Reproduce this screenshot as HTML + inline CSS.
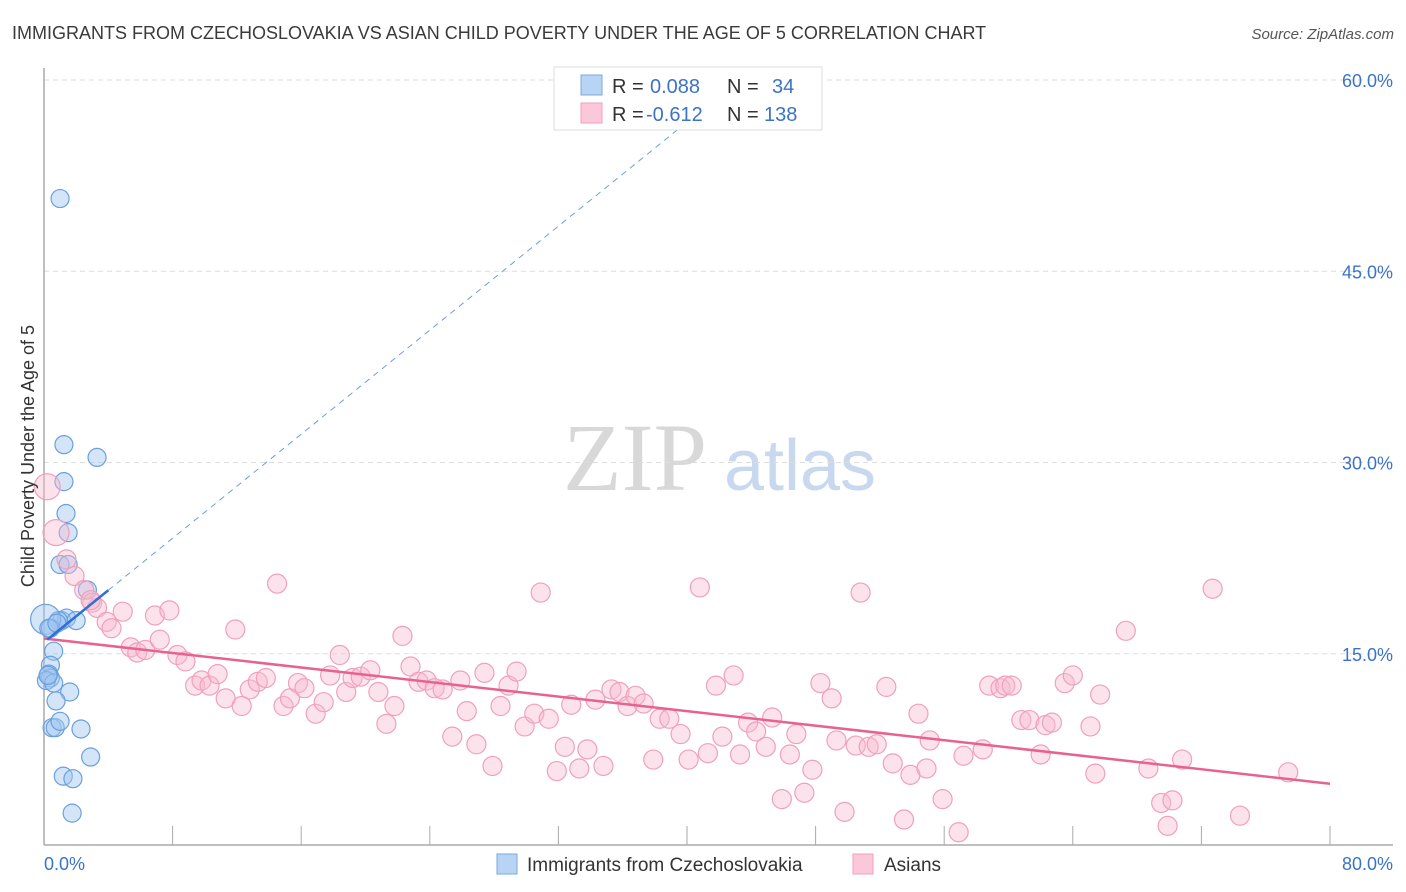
<!DOCTYPE html>
<html><head><meta charset="utf-8"><style>
body{margin:0;background:#fff;font-family:"Liberation Sans",sans-serif;}
svg{display:block}
</style></head><body>
<svg id="chart" width="1406" height="892" xmlns="http://www.w3.org/2000/svg" font-family="Liberation Sans, sans-serif">
<text x="12" y="39" font-size="18" fill="#3a3a3a">IMMIGRANTS FROM CZECHOSLOVAKIA VS ASIAN CHILD POVERTY UNDER THE AGE OF 5 CORRELATION CHART</text>
<text x="1394" y="39" font-size="15" fill="#555" text-anchor="end" font-style="italic">Source: ZipAtlas.com</text>
<g>
<text x="635" y="490" font-size="96" fill="#d8d8d8" font-family="Liberation Serif, serif" text-anchor="middle">ZIP</text>
<text x="800" y="490" font-size="72" fill="#c8d9ef" text-anchor="middle">atlas</text>
</g>
<g id="grid"></g>
<g id="axes"></g>
<g id="blueDots"></g>
<g id="pinkDots"></g>
<g id="lines"></g>
<text transform="translate(34,456) rotate(-90)" font-size="18" fill="#333" text-anchor="middle">Child Poverty Under the Age of 5</text>
<g>
<rect x="554" y="67" width="268" height="63" fill="#fff" stroke="#ddd"/>
<rect x="581" y="75" width="21" height="20" fill="#b8d4f5" stroke="#7aa8e0"/>
<rect x="581" y="103" width="21" height="20" fill="#fac8d8" stroke="#f0a0b8"/>
<text x="612" y="93" font-size="20" fill="#333">R =</text>
<text x="650" y="93" font-size="20" fill="#3b73c8">0.088</text>
<text x="727" y="93" font-size="20" fill="#333">N =</text>
<text x="772" y="93" font-size="20" fill="#3b73c8">34</text>
<text x="612" y="121" font-size="20" fill="#333">R =</text>
<text x="646" y="121" font-size="20" fill="#3b73c8">-0.612</text>
<text x="727" y="121" font-size="20" fill="#333">N =</text>
<text x="764" y="121" font-size="20" fill="#3b73c8">138</text>
</g>
<g>
<rect x="497" y="854" width="20" height="20" fill="#b8d4f5" stroke="#7aa8e0"/>
<text x="527" y="871" font-size="19" fill="#333">Immigrants from Czechoslovakia</text>
<rect x="853" y="854" width="20" height="20" fill="#fac8d8" stroke="#f0a0b8"/>
<text x="884" y="871" font-size="19" fill="#333">Asians</text>
</g>
</svg>
<script>
const xTicks=[0,8,16,24,32,40,48,56,64,72,80];
const yTicks=[15,30,45,60];
const yTickLabels=["15.0%","30.0%","45.0%","60.0%"];
const xEndLabels=["0.0%","80.0%"];
const blueX=[1.0,1.24,3.3,1.24,1.37,1.5,1.0,1.5,2.7,1.1,1.4,0.9,2.0,0.1,0.4,0.6,0.4,0.3,0.4,0.15,0.6,1.6,0.75,0.5,0.7,1.0,2.3,2.9,1.2,1.8,1.75,0.25,0.3,0.8];
const blueY=[50.7,31.4,30.4,28.5,26.0,24.5,22.0,22.0,20.0,17.6,17.8,17.6,17.6,17.7,17.0,15.2,14.1,13.4,13.1,12.9,12.7,12.0,11.3,9.2,9.2,9.7,9.1,6.9,5.4,5.2,2.5,13.3,17.0,17.4];
const pinkX=[0.2,0.75,1.4,1.9,2.5,3.0,3.3,3.9,4.2,4.9,2.9,5.4,5.8,6.3,6.9,7.2,7.8,8.3,8.8,9.4,9.8,10.3,10.8,11.3,11.9,12.3,12.8,13.3,13.8,14.5,14.9,15.3,15.8,16.2,16.9,17.4,17.8,18.4,18.8,19.2,19.7,20.3,20.8,21.3,21.8,22.3,22.8,23.3,23.8,24.3,24.8,25.4,25.9,26.3,26.9,27.4,27.9,28.4,28.9,29.4,29.9,30.5,30.9,31.4,31.9,32.4,32.8,33.3,33.8,34.3,34.8,35.3,35.8,36.3,36.8,37.3,37.9,38.3,38.9,39.6,40.1,40.8,41.3,41.8,42.2,42.9,43.3,43.8,44.3,44.9,45.3,45.9,46.4,46.8,47.3,47.8,48.3,49.0,49.3,49.8,50.5,50.8,51.3,51.8,52.4,52.8,53.5,53.9,54.4,54.9,55.1,55.9,56.9,57.2,58.4,58.8,59.5,59.8,60.2,60.8,61.3,62.0,62.3,62.7,63.5,64.0,65.1,65.4,65.7,67.3,68.7,69.5,69.9,70.2,70.8,72.7,74.4,77.4];
const pinkY=[28.1,24.5,22.4,21.1,20.0,19.0,18.6,17.5,17.0,18.3,19.2,15.5,15.1,15.3,18.0,16.1,18.4,14.9,14.4,12.5,12.9,12.5,13.4,11.5,16.9,10.9,12.2,12.8,13.1,20.5,10.9,11.5,12.7,12.3,10.3,11.2,13.3,14.9,12.0,13.1,13.2,13.7,12.0,9.5,10.9,16.4,14.0,12.8,12.9,12.3,12.2,8.5,12.9,10.5,7.9,13.5,6.2,10.9,12.5,13.6,9.3,10.3,19.8,9.9,5.8,7.7,11.0,6.0,7.5,11.4,6.2,12.2,12.0,10.9,11.7,11.1,6.7,9.9,9.9,8.7,6.7,20.2,7.2,12.5,8.5,13.3,7.1,9.6,8.9,7.7,10.0,3.6,7.1,8.7,4.1,5.9,12.7,11.5,8.2,2.6,7.8,19.8,7.7,7.9,12.4,6.4,2.0,5.5,10.3,6.0,8.2,3.6,1.0,7.0,7.5,12.5,12.3,12.5,12.5,9.8,9.8,7.1,9.4,9.6,12.7,13.3,9.3,5.6,11.8,16.8,6.0,3.3,1.5,3.5,6.7,20.1,2.3,5.7];
const pinkTrend=[16.2,4.8];
const blueTrend=[15.9,1.02];

const NS="http://www.w3.org/2000/svg";
const X=v=>44+v*16.075, Y=v=>845-v*12.75;
function mk(tag,attrs,parent){const e=document.createElementNS(NS,tag);for(const k in attrs)e.setAttribute(k,attrs[k]);parent.appendChild(e);return e;}
const grid=document.getElementById('grid'),axes=document.getElementById('axes');
yTicks.forEach((t,i)=>{
  const l=mk('line',{x1:44,x2:1393,y1:Y(t),y2:Y(t),stroke:'#ddd','stroke-dasharray':'5,4'},grid);
  
  
  const tx=mk('text',{x:1393,y:Y(t)+7,'font-size':18,fill:'#3b73c8','text-anchor':'end'},axes);
  tx.textContent=yTickLabels[i];
  
  
});
const xa=mk('line',{x1:44,x2:1393,y1:845,y2:845,stroke:'#aaa','stroke-width':1.5},axes);


const ya=mk('line',{x1:44,x2:44,y1:68,y2:845,stroke:'#aaa','stroke-width':1.5},axes);


xTicks.forEach(t=>{
  const l=mk('line',{x1:X(t),x2:X(t),y1:826,y2:845,stroke:'#aaa'},axes);
  
  
});
[[0,'start'],[80,'end']].forEach((p,i)=>{
  const tx=mk('text',{x:i?1393:44,y:870,'font-size':18,fill:'#3b73c8','text-anchor':p[1]},axes);
  tx.textContent=xEndLabels[i];
  
  
});
const bd=document.getElementById('blueDots');
blueX.forEach((x,i)=>{
  const c=mk('circle',{cx:X(x),cy:Y(blueY[i]),r:(i==13?15:9),fill:'rgba(160,198,240,0.45)',stroke:'#6a9fe0','stroke-width':1.2},bd);
  
  
});
const pd=document.getElementById('pinkDots');
pinkX.forEach((x,i)=>{
  const c=mk('circle',{cx:X(x),cy:Y(pinkY[i]),r:(i<2?13:9.5),fill:'rgba(248,185,205,0.4)',stroke:'#f0a0bb','stroke-width':1.2},pd);
  
  
});
const ln=document.getElementById('lines');
const pl=mk('line',{x1:X(0),y1:Y(pinkTrend[0]),x2:X(80),y2:Y(pinkTrend[1]),stroke:'#e8628e','stroke-width':2.5},ln);


const xEnd=(60.8-blueTrend[0])/blueTrend[1];
const bdash=mk('line',{x1:X(4),y1:Y(blueTrend[0]+4*blueTrend[1]),x2:X(xEnd),y2:Y(blueTrend[0]+xEnd*blueTrend[1]),stroke:'#6a9fe0','stroke-width':1,'stroke-dasharray':'6,5'},ln);


const bl=mk('line',{x1:X(0.2),y1:Y(blueTrend[0]+0.2*blueTrend[1]),x2:X(4),y2:Y(blueTrend[0]+4*blueTrend[1]),stroke:'#2f6fd6','stroke-width':2.5},ln);


</script>
</body></html>
